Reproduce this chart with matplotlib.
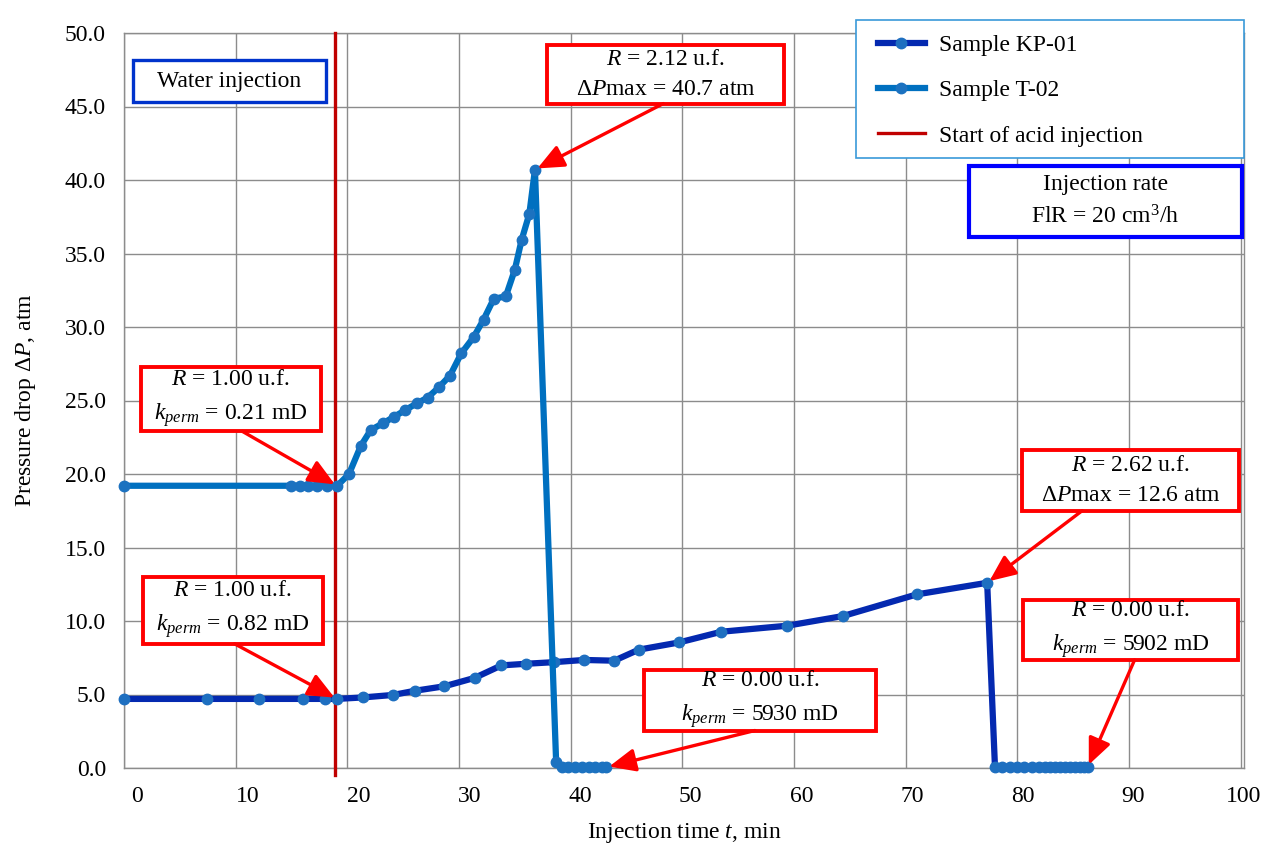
import numpy as np
import matplotlib
matplotlib.use("Agg")
import matplotlib.pyplot as plt
from matplotlib.patches import Rectangle
from matplotlib.lines import Line2D

# --- data ---
kp01_t = [0, 7.45, 12.1, 16.0, 18.0, 19.07, 21.4, 24.1, 26.1, 28.7, 31.4, 33.8,
          36.0, 38.5, 41.2, 43.9, 46.1, 49.7, 53.5, 59.4, 64.4, 71.0, 77.3,
          78.0, 78.6, 79.3, 80.0, 80.6, 81.3, 81.9, 82.5, 82.9, 83.4, 83.8,
          84.3, 84.7, 85.2, 85.6, 86.0, 86.3]
kp01_p = [4.7, 4.7, 4.7, 4.7, 4.7, 4.7, 4.8, 4.97, 5.26, 5.56, 6.13, 6.98,
          7.09, 7.2, 7.35, 7.3, 8.05, 8.54, 9.27, 9.68, 10.34, 11.81, 12.6,
          0.05, 0.05, 0.05, 0.05, 0.05, 0.05, 0.05, 0.05, 0.05, 0.05, 0.05,
          0.05, 0.05, 0.05, 0.05, 0.05, 0.05]

t02_t = [0, 15.0, 15.8, 16.5, 17.3, 18.2, 19.1, 20.15, 21.2, 22.1, 23.2, 24.2,
         25.2, 26.2, 27.2, 28.2, 29.2, 30.2, 31.3, 32.2, 33.1, 34.2, 35.0,
         35.6, 36.3, 36.8, 38.7, 39.2, 39.8, 40.4, 41.0, 41.6, 42.2, 42.8, 43.2]
t02_p = [19.2, 19.2, 19.2, 19.2, 19.2, 19.2, 19.2, 20.0, 21.9, 23.0, 23.45, 23.9,
         24.35, 24.8, 25.2, 25.9, 26.7, 28.2, 29.3, 30.5, 31.9, 32.1, 33.9,
         35.9, 37.7, 40.7, 0.4, 0.05, 0.05, 0.05, 0.05, 0.05, 0.05, 0.05, 0.05]

acid_start = 18.9

xtick_vals = np.arange(0, 101, 10)
ytick_vals = np.arange(0, 50.1, 5)

plt.rcParams['font.family'] = ['Liberation Serif', 'DejaVu Serif']
plt.rcParams['mathtext.fontset'] = 'custom'
plt.rcParams['mathtext.rm'] = 'Liberation Serif'
plt.rcParams['mathtext.it'] = 'Liberation Serif:italic'
plt.rcParams['font.size'] = 17

fig = plt.figure(figsize=(12.79, 8.57), dpi=100)
ax = fig.add_axes([124 / 1279, 1 - 768 / 857, 1120 / 1279, 735 / 857])

grid_col = '#8c8c8c'
kp_line, kp_mark = '#0429b0', '#1e6fc0'
t02_line, t02_mark = '#0070c0', '#1c72c0'
red_line = '#c00000'
red = '#ff0000'

ax.plot(kp01_t, kp01_p, color=kp_line, lw=4.5, marker='o', ms=7.5,
        mfc=kp_mark, mec=kp_mark, clip_on=False, zorder=4)
ax.plot(t02_t, t02_p, color=t02_line, lw=4.5, marker='o', ms=7.5,
        mfc=t02_mark, mec=t02_mark, clip_on=False, zorder=4)
ax.plot([acid_start, acid_start], [-0.5, 50], color=red_line, lw=2.4,
        clip_on=False, zorder=3)

ax.set_xlim(0, 100)
ax.set_ylim(0, 50)
ax.set_xticks(xtick_vals, [''] * len(xtick_vals))
# labels in the reference sit a little right of the grid lines
ax.set_xticks(xtick_vals + 1.2 - 0.009 * xtick_vals,
              [str(v) for v in xtick_vals], minor=True)
ax.set_yticks(ytick_vals, [f'{v:.1f}' for v in ytick_vals])
ax.tick_params(axis='both', which='both', length=0)
ax.tick_params(axis='x', which='minor', pad=13)
ax.tick_params(axis='y', pad=13)
ax.grid(True, which='major', color=grid_col, lw=1.0)
for s in ax.spines.values():
    s.set_color(grid_col)
    s.set_linewidth(1.0)

ax.set_xlabel('Injection time $t$, min', labelpad=10)
ax.set_ylabel('Pressure drop Δ$P$, atm', labelpad=19)


def note(x0, y0, w, h, text, edge, lw):
    ax.add_patch(Rectangle((x0, y0), w, h, fc='white', ec=edge, lw=lw,
                           clip_on=False, zorder=6))
    ax.text(x0 + w / 2, y0 + h / 2, text, ha='center', va='center',
            linespacing=1.6, zorder=7)


def arrow(start, end):
    ax.annotate('', xy=end, xytext=start, zorder=8, annotation_clip=False,
                arrowprops=dict(arrowstyle='-|>,head_length=0.8,head_width=0.35',
                                color=red, lw=2.4, shrinkA=0, shrinkB=2,
                                mutation_scale=20))


note(37.9, 45.2, 21.2, 3.95, '$R$ = 2.12 u.f.\nΔ$P$max = 40.7 atm', red, 2.8)
arrow((48.3, 45.2), (t02_t[25], t02_p[25]))

note(1.5, 22.9, 16.1, 4.35, '$R$ = 1.00 u.f.\n$k_{perm}$ = 0.21 mD', red, 2.8)
arrow((10.6, 22.9), (t02_t[6], t02_p[6]))

note(1.7, 8.45, 16.1, 4.55, '$R$ = 1.00 u.f.\n$k_{perm}$ = 0.82 mD', red, 2.8)
arrow((9.9, 8.45), (kp01_t[5], kp01_p[5]))

note(46.6, 2.55, 20.7, 4.15, '$R$ = 0.00 u.f.\n$k_{perm}$ = 5930 mD', red, 2.8)
arrow((56.5, 2.55), (t02_t[-1], t02_p[-1]))

note(80.45, 17.5, 19.4, 4.1, '$R$ = 2.62 u.f.\nΔ$P$max = 12.6 atm', red, 2.8)
arrow((85.8, 17.5), (kp01_t[22], kp01_p[22]))

note(80.5, 7.35, 19.3, 4.1, '$R$ = 0.00 u.f.\n$k_{perm}$ = 5902 mD', red, 2.8)
arrow((90.5, 7.35), (kp01_t[-1], kp01_p[-1]))

note(0.8, 45.3, 17.3, 2.85, 'Water injection', '#0033cc', 2.4)
note(75.7, 36.15, 24.4, 4.8, 'Injection rate\nFlR = 20 cm$^3$/h', '#0000ff', 3.0)

# legend box
fig.patches.append(Rectangle((856 / 1279, 1 - 158 / 857), 388 / 1279, 138 / 857,
                             transform=fig.transFigure, fc='white',
                             ec='#3a9ad9', lw=1.2, zorder=1))
handles = [
    Line2D([], [], color=kp_line, lw=4.5, marker='o', ms=7.5, mfc=kp_mark, mec=kp_mark),
    Line2D([], [], color=t02_line, lw=4.5, marker='o', ms=7.5, mfc=t02_mark, mec=t02_mark),
    Line2D([], [], color=red_line, lw=2.4),
]
fig.legend(handles, ['Sample KP-01', 'Sample T-02', 'Start of acid injection'],
           loc='upper left', bbox_to_anchor=(866 / 1279, 1 - 23 / 857),
           frameon=False, borderpad=0, handlelength=2.0, handletextpad=0.6,
           labelspacing=1.0, fontsize=17)

fig.savefig('out.png', dpi=100)
